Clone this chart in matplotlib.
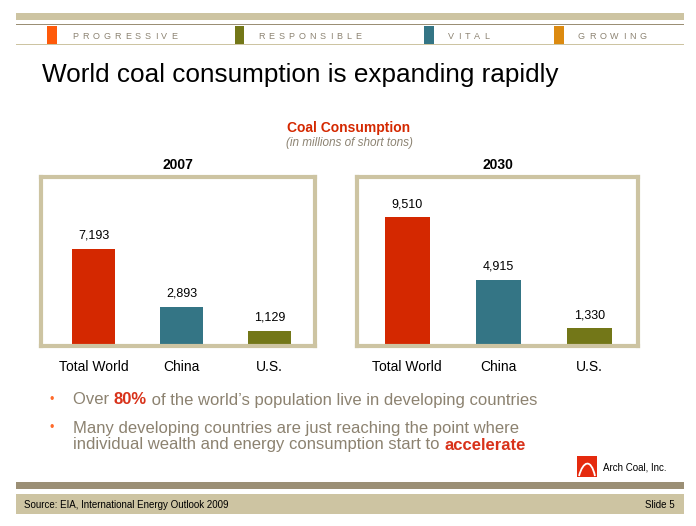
import matplotlib
matplotlib.use("Agg")
import matplotlib.pyplot as plt
from matplotlib.patches import Rectangle, PathPatch
from matplotlib.path import Path

# data
categories = ["Total World", "China", "U.S."]
values_2007 = [7193, 2893, 1129]
values_2030 = [9510, 4915, 1330]
bar_colors = ["#d42800", "#347585", "#737718"]

header_words = ["PROGRESSIVE", "RESPONSIBLE", "VITAL", "GROWING"]
header_colors = ["#ff5a0a", "#737718", "#347585", "#dc8a10"]

plt.rcParams['font.family'] = ['Liberation Sans', 'DejaVu Sans']

W, H = 696, 526
fig = plt.figure(figsize=(W / 100, H / 100), dpi=100)
renderer = fig.canvas.get_renderer()


def fx(x):
    return x / W


def fy(y):
    return 1 - y / H


def rect(x0, y0, x1, y1, color):
    fig.patches.append(Rectangle((fx(x0), fy(y1)), (x1 - x0) / W, (y1 - y0) / H,
                                 transform=fig.transFigure, color=color, lw=0, zorder=0))


def rich_line(x, y, segments, size):
    # draw pieces of text one after the other on one line
    for txt, color, weight in segments:
        t = fig.text(fx(x), fy(y), txt, color=color, fontsize=size, fontweight=weight,
                     ha='left', va='center')
        x += t.get_window_extent(renderer).width


# header
rect(16, 13, 684, 20, "#cdc4a2")
rect(16, 24, 684, 25.5, "#9b8f75")
rect(16, 44, 684, 45, "#cdc4a2")
square_x = [47, 235, 424, 554]
label_x = [72, 258, 448, 578]
for sx, lx, word, col in zip(square_x, label_x, header_words, header_colors):
    rect(sx, 25.5, sx + 9.5, 44, col)
    x = lx
    for ch in word:
        t = fig.text(fx(x), fy(36.5), ch, fontsize=6.5, color="#8c8372", ha='left', va='center')
        x += t.get_window_extent(renderer).width + 4.0

fig.text(fx(42), fy(75), "World coal consumption is expanding rapidly", fontsize=18.8,
         color="black", ha='left', va='center')

fig.text(fx(349), fy(128), "Coal Consumption", fontsize=10, fontweight='bold',
         color="#d42800", ha='center', va='center')
fig.text(fx(349), fy(143), "(in millions of short tons)", fontsize=8.5, style='italic',
         color="#8c8372", ha='center', va='center')


def bar_panel(box, values, year, xlim):
    x0, y0, x1, y1 = box
    ax = fig.add_axes([fx(x0), fy(y1), (x1 - x0) / W, (y1 - y0) / H])
    pos = range(len(values))
    bars = ax.bar(pos, values, width=0.49, color=bar_colors, zorder=1)
    for b, v in zip(bars, values):
        ax.annotate(f"{v:,}", (b.get_x() + b.get_width() / 2, v), xytext=(0, 5),
                    textcoords='offset points', ha='center', va='bottom', fontsize=9)
    ax.set_xlim(*xlim)
    ax.set_ylim(0, 12500)
    ax.set_yticks([])
    ax.set_xticks(list(pos))
    ax.set_xticklabels(categories, fontsize=10)
    ax.tick_params(axis='x', length=0, pad=10)
    for s in ax.spines.values():
        s.set_color("#cdc4a2")
        s.set_linewidth(3)
        s.set_zorder(3)
    fig.text(fx((x0 + x1) / 2), fy(165), year, fontsize=10, fontweight='bold',
             ha='center', va='center')
    return ax


bar_panel((41, 177, 315, 346), values_2007, "2007", (-0.6, 2.52))
bar_panel((357, 177, 638, 346), values_2030, "2030", (-0.55, 2.53))

# bullets
text_col = "#8c8270"
red = "#d8321a"
for by in [400, 428]:
    fig.text(fx(50), fy(by), "•", color="#ff6a2a", fontsize=9, ha='left', va='center')
rich_line(73, 400, [("Over ", text_col, 'normal'), ("80%", red, 'bold'),
                    (" of the world\u2019s population live in developing countries", text_col, 'normal')], 12)
rich_line(73, 428, [("Many developing countries are just reaching the point where", text_col, 'normal')], 12)
rich_line(73, 445, [("individual wealth and energy consumption start to ", text_col, 'normal'),
                    ("accelerate", red, 'bold')], 12)

# logo
rect(577, 456, 597, 477, "#e52a0e")
logo = Path([(fx(579), fy(476)), (fx(583), fy(461)), (fx(591), fy(458)), (fx(595), fy(476))],
            [Path.MOVETO, Path.CURVE4, Path.CURVE4, Path.CURVE4])
fig.patches.append(PathPatch(logo, transform=fig.transFigure, fill=False, ec='white', lw=1.3))
fig.text(fx(603), fy(468), "Arch Coal, Inc.", fontsize=7, ha='left', va='center')

# footer
rect(16, 482, 684, 489, "#9b8f75")
rect(16, 494, 684, 514, "#cdc4a2")
fig.text(fx(24), fy(505), "Source: EIA, International Energy Outlook 2009", fontsize=7,
         ha='left', va='center')
fig.text(fx(675), fy(505), "Slide 5", fontsize=7, ha='right', va='center')

fig.savefig("out.png", dpi=100)
